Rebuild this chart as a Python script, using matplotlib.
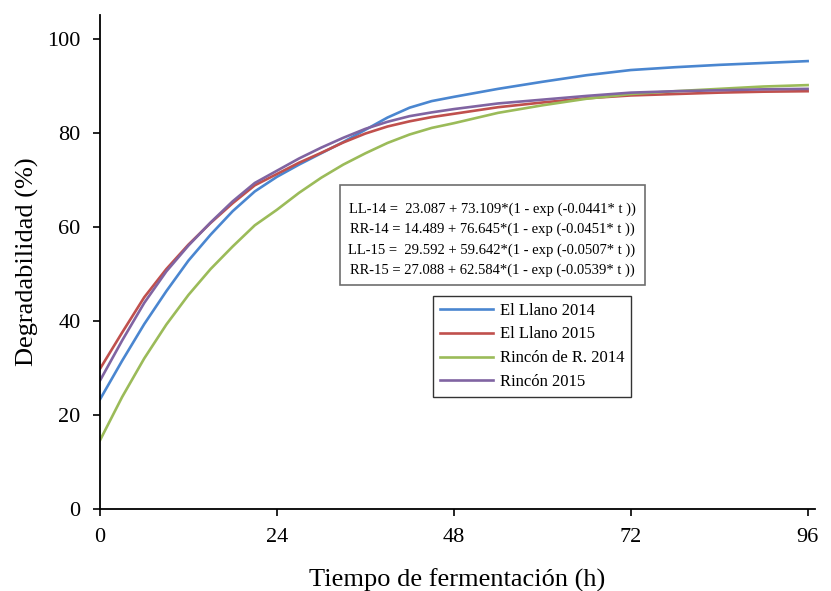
import matplotlib.pyplot as plt
from matplotlib.patches import Rectangle

# Values (degradability, %)
tiempo = [0, 3, 6, 9, 12, 15, 18, 21, 24, 27, 30, 33, 36, 39, 42, 45, 48,
          54, 60, 66, 72, 78, 84, 90, 96]
llano_2014 = [23.3, 31.5, 39.3, 46.3, 52.8, 58.3, 63.3, 67.5, 70.6, 73.2, 75.6,
              78.0, 80.6, 83.2, 85.3, 86.7, 87.6, 89.3, 90.8, 92.2, 93.3,
              93.9, 94.4, 94.8, 95.2]
llano_2015 = [29.8, 37.5, 45.0, 51.0, 56.2, 60.8, 65.0, 68.8, 71.2, 73.6, 75.7,
              77.9, 79.8, 81.3, 82.4, 83.3, 84.0, 85.4, 86.4, 87.3, 87.9,
              88.2, 88.5, 88.7, 88.8]
rincon_r_2014 = [14.6, 23.8, 32.0, 39.2, 45.5, 51.0, 55.8, 60.3, 63.6, 67.2,
                 70.4, 73.2, 75.6, 77.8, 79.6, 81.0, 82.0, 84.2, 85.8, 87.2,
                 88.2, 88.8, 89.3, 89.8, 90.1]
rincon_2015 = [27.3, 35.8, 43.8, 50.5, 56.0, 60.9, 65.4, 69.3, 71.9, 74.5, 76.8,
               78.9, 80.8, 82.3, 83.5, 84.3, 85.0, 86.2, 87.0, 87.8, 88.5,
               88.8, 89.0, 89.2, 89.3]

xticks = [0, 24, 48, 72, 96]
yticks = [0, 20, 40, 60, 80, 100]

ecuaciones = [
    "LL-14 =  23.087 + 73.109*(1 - exp (-0.0441* t ))",
    "RR-14 = 14.489 + 76.645*(1 - exp (-0.0451* t ))",
    "LL-15 =  29.592 + 59.642*(1 - exp (-0.0507* t ))",
    "RR-15 = 27.088 + 62.584*(1 - exp (-0.0539* t ))",
]

plt.rcParams["font.family"] = ["Liberation Serif", "DejaVu Serif"]

W, H = 831, 591
fig = plt.figure(figsize=(W / 100, H / 100), dpi=100)
ax = fig.add_axes([100 / W, 1 - 509 / H, 715 / W, 494 / H])

ax.plot(tiempo, llano_2014, color="#4A86D0", lw=1.9, label="El Llano 2014")
ax.plot(tiempo, llano_2015, color="#C0504D", lw=1.9, label="El Llano 2015")
ax.plot(tiempo, rincon_r_2014, color="#9BBB59", lw=1.9, label="Rincón de R. 2014")
ax.plot(tiempo, rincon_2015, color="#8064A2", lw=1.9, label="Rincón 2015")

ax.set_xlim(0, 97)
ax.set_ylim(0, 105)
ax.set_xticks(xticks)
ax.set_yticks(yticks)
ax.tick_params(direction="out", length=5, width=1.2, labelsize=16, pad=9)
for side in ["top", "right"]:
    ax.spines[side].set_visible(False)
for side in ["left", "bottom"]:
    ax.spines[side].set_linewidth(1.3)

ax.set_xlabel("Tiempo de fermentación (h)", fontsize=19, labelpad=15)
ax.set_ylabel("Degradabilidad (%)", fontsize=19, labelpad=6)

# Equation box
fig.patches.append(Rectangle((340 / W, 1 - 285 / H), 305 / W, 100 / H,
                             transform=fig.transFigure, fill=False,
                             edgecolor="#6e6e6e", lw=1.2))
fig.text(492 / W, 1 - 240 / H, "\n".join(ecuaciones), ha="center", va="center",
         fontsize=10.5, linespacing=1.68, multialignment="center")

leg = ax.legend(loc="upper left", bbox_to_anchor=(433 / W, 1 - 296 / H),
                bbox_transform=fig.transFigure, fontsize=12, frameon=True,
                fancybox=False, edgecolor="black", handlelength=3.2,
                handletextpad=0.4, labelspacing=0.47, borderpad=0.4,
                borderaxespad=0)
leg.get_frame().set_linewidth(1.0)

fig.savefig("out.png", dpi=100)
